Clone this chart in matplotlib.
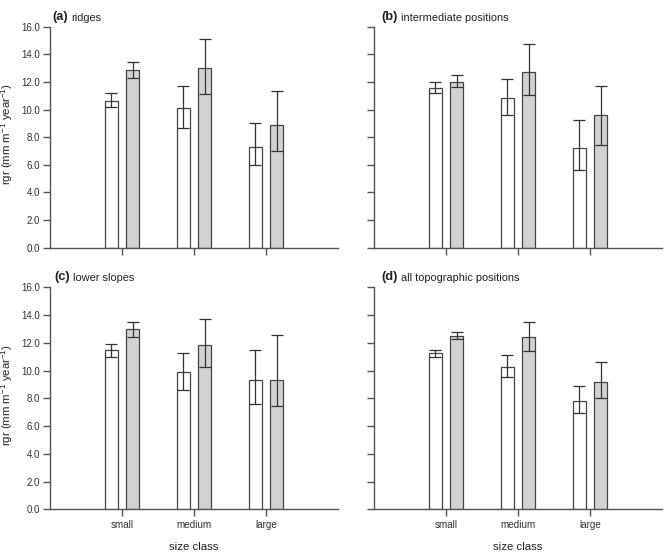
import matplotlib
matplotlib.use("Agg")
import matplotlib.pyplot as plt
import numpy as np

plt.rcParams['font.family'] = ['Liberation Sans', 'DejaVu Sans']
plt.rcParams['mathtext.fontset'] = 'custom'
plt.rcParams['mathtext.rm'] = 'Liberation Sans'
plt.rcParams['mathtext.it'] = 'Liberation Sans'

categories = ["small", "medium", "large"]
panel_letters = ["(a)", "(b)", "(c)", "(d)"]
panel_names = ["ridges", "intermediate positions", "lower slopes", "all topographic positions"]

# mean values (white series, grey series) per panel
white_vals = [
    [10.65, 10.1, 7.27],
    [11.59, 10.82, 7.2],
    [11.47, 9.88, 9.33],
    [11.23, 10.24, 7.81],
]
grey_vals = [
    [12.83, 13.0, 8.86],
    [12.03, 12.7, 9.59],
    [12.96, 11.83, 9.33],
    [12.52, 12.43, 9.18],
]
# error bar ends (low, high)
white_lo = [[10.2, 8.65, 6.0], [11.18, 9.61, 5.6], [11.0, 8.63, 7.57], [10.96, 9.52, 6.92]]
white_hi = [[11.18, 11.74, 9.0], [12.03, 12.22, 9.25], [11.92, 11.23, 11.47], [11.49, 11.13, 8.92]]
grey_lo = [[12.25, 11.1, 7.03], [11.62, 11.09, 7.44], [12.4, 10.24, 7.43], [12.26, 11.39, 8.05]]
grey_hi = [[13.43, 15.1, 11.33], [12.49, 14.73, 11.74], [13.51, 13.7, 12.57], [12.79, 13.49, 10.63]]

yticks = [0, 2, 4, 6, 8, 10, 12, 14, 16]

W, H = 667, 555
fig = plt.figure(figsize=(W / 100, H / 100), dpi=100)

edge = '#444444'
spine_col = '#555555'
pos = [
    (50, 26.7, 338, 247.7),
    (374, 26.7, 662, 247.7),
    (50, 287.3, 338, 509.3),
    (374, 287.3, 662, 509.3),
]
title_off = [2, 7, 4, 7]

x = np.arange(1, len(categories) + 1)
bw = 0.18
off = 0.149

for i in range(4):
    l, t, r, b = pos[i]
    ax = fig.add_axes([l / W, 1 - b / H, (r - l) / W, (b - t) / H])
    wv = np.array(white_vals[i]); gv = np.array(grey_vals[i])
    ax.bar(x - off, wv, bw, color='white', edgecolor=edge, linewidth=0.9, zorder=2)
    ax.bar(x + off, gv, bw, color='#d2d2d2', edgecolor=edge, linewidth=0.9, zorder=2)
    ax.errorbar(x - off, wv, yerr=[wv - np.array(white_lo[i]), np.array(white_hi[i]) - wv],
                fmt='none', ecolor='#333333', elinewidth=0.9, capsize=4, capthick=0.9, zorder=3)
    ax.errorbar(x + off, gv, yerr=[gv - np.array(grey_lo[i]), np.array(grey_hi[i]) - gv],
                fmt='none', ecolor='#333333', elinewidth=0.9, capsize=4, capthick=0.9, zorder=3)
    ax.set_xlim(0, 4)
    ax.set_ylim(0, 16)
    ax.set_yticks(yticks)
    for s in ['top', 'right']:
        ax.spines[s].set_visible(False)
    for s in ['left', 'bottom']:
        ax.spines[s].set_color(spine_col)
        ax.spines[s].set_linewidth(1.0)
    ax.tick_params(axis='both', direction='out', length=5, width=1.0, color=spine_col,
                   labelsize=7, labelcolor='#333333')
    ax.set_xticks(x)
    if i % 2 == 0:
        ax.set_yticklabels([f"{v:.1f}" for v in yticks])
        ax.tick_params(axis='y', pad=2)
    else:
        ax.set_yticklabels([])
    if i >= 2:
        ax.set_xticklabels(categories, fontsize=7.1)
        ax.tick_params(axis='x', pad=3)
        ax.set_xlabel("size class", fontsize=8.2, color='#222222', labelpad=8)
    else:
        ax.set_xticklabels([])
    # titles
    ta = ax.annotate(panel_letters[i], xy=(0, 1), xycoords='axes fraction',
                     xytext=(title_off[i] * 0.72, 3), textcoords='offset points',
                     fontsize=9.3, fontweight='bold', color='#222222', va='bottom', ha='left')
    ax.annotate(panel_names[i], xy=(1, 0), xycoords=ta,
                xytext=(2.5, 0), textcoords='offset points',
                fontsize=7.9, color='#222222', va='bottom', ha='left')

for yc in [(26.7 + 247.7) / 2, (287.3 + 509.3) / 2]:
    fig.text(7 / W, 1 - (yc - 3) / H, r"rgr (mm m$^{-1}$ year$^{-1}$)", rotation=90,
             ha='center', va='center', fontsize=8.2, color='#222222')

fig.savefig("out.png", dpi=100)
